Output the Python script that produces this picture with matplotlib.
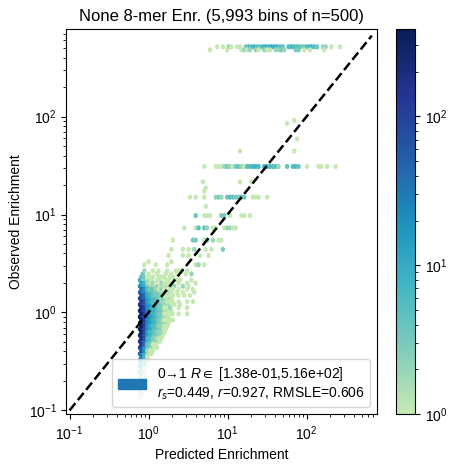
import numpy as np
import matplotlib
matplotlib.use('Agg')
import matplotlib.pyplot as plt
from matplotlib.colors import LinearSegmentedColormap, LogNorm
from matplotlib.patches import Patch

plt.rcParams['font.family'] = ['Liberation Sans', 'DejaVu Sans']
plt.rcParams['mathtext.fontset'] = 'custom'
plt.rcParams['mathtext.rm'] = 'Liberation Sans'
plt.rcParams['mathtext.it'] = 'Liberation Sans:italic'
plt.rcParams['mathtext.bf'] = 'Liberation Sans:bold'
plt.rcParams['mathtext.fallback'] = 'stixsans'

# top band, observed ~516 and ~483
top_x = [7.13, 8.5, 10.1, 11.0, 13.5, 14.8, 16.6, 18.2, 19.8, 21.6, 23.5, 25.7, 28, 30.6, 33.4, 36.4, 39.8, 43.4,
         47.3, 51.6, 58, 63.3, 69, 75.5, 82, 89.7, 98, 107, 117, 127, 139, 156, 175, 203, 265]
top_n = [1, 1, 2, 1, 1, 1, 3, 6, 5, 7, 5, 4, 6, 8, 7, 9, 8, 7,
         5, 4, 5, 6, 6, 5, 4, 3, 5, 6, 7, 5, 3, 2, 2, 1, 1]
top2_x = [6.0, 10.1, 15.2, 16.6, 18.2, 19.8, 22.9, 25, 28, 31.5, 35.4, 39.8, 43.4, 47.3, 53, 71, 75.5, 82, 95, 107, 170]
top2_n = [1, 1, 1, 2, 1, 2, 2, 1, 2, 1, 1, 2, 2, 3, 2, 1, 2, 3, 1, 1, 1]

# band at ~31
b31_x = [4.88, 6.92, 7.5, 8.2, 9, 9.8, 10.7, 11.7, 12.8, 14, 15.2, 16.6, 18.2, 19.8, 21.6, 23.5, 25.7, 28, 30.6,
         33.4, 36.4, 39.8, 43.4, 58, 65, 71, 77, 82, 103, 139, 160, 182, 243]
b31_n = [1, 1, 1, 1, 2, 3, 2, 1, 3, 4, 2, 1, 5, 6, 7, 8, 6, 7, 8,
         6, 5, 5, 2, 4, 5, 6, 3, 1, 1, 1, 1, 1, 1]

# band at ~15
b15_x = [4.1, 4.88, 6.92, 7.5, 8.2, 9.8, 10.7, 11.7, 12.8, 14, 15.2, 16.6, 21.6, 23.5, 25.7, 32]
b15_n = [1, 1, 2, 3, 2, 3, 5, 4, 3, 3, 4, 3, 1, 1, 1, 1]

# remaining scattered bins
mid_x = [3.3, 4.9, 14, 20.6, 56, 68, 75, 14, 70, 5.4, 5.2, 5.3, 3.9, 4.3,
         4.0, 5.1, 5.6, 6.2, 8.7, 9.4, 10.7, 15.5, 16.8, 18.5,
         2.8, 4.4, 4.9, 5.4, 6.4, 6.9, 9.4, 10, 10.7, 11.7, 12.8,
         2.03, 3.66, 4.0, 5.17, 5.6, 6.36, 7.5, 8.7,
         1.98, 2.64, 3.15, 3.66, 5.17, 6.36, 8.7,
         1.76, 2.64, 3.34, 4.6, 5.6,
         4.1, 4.47, 4.9, 2.0, 1.71, 1.2, 0.9, 1.04,
         0.875, 1.1, 1.39, 1.76, 2.16, 2.5, 2.7, 3.05,
         0.825, 1.04, 1.27, 1.61, 1.92, 2.35, 2.97, 3.55,
         2.5, 3.15, 3.87, 2.43, 2.97, 3.55, 2.35, 2.8, 3.34,
         2.5, 3.05, 3.66, 2.35, 2.97, 2.5, 3.15, 2.0,
         2.25, 2.6, 3.4, 2.2, 2.75, 3.2, 2.3, 2.65, 3.85, 2.2, 2.6]
mid_y = [15.6, 21, 21, 21, 86, 92, 60, 44, 44, 19, 17.5, 12, 7.2, 7.6,
         9.8, 9.8, 9.8, 9.8, 9.8, 9.8, 9.8, 9.8, 9.8, 9.8,
         7.2, 7.2, 7.2, 7.2, 7.2, 7.2, 7.2, 7.2, 7.2, 7.2, 7.2,
         5.4, 5.4, 5.4, 5.4, 5.4, 5.4, 5.4, 5.4,
         4.4, 4.4, 4.4, 4.4, 4.4, 4.4, 4.4,
         3.8, 3.8, 3.8, 3.8, 3.8,
         3.1, 3.1, 3.1, 3.3, 3.2, 3.1, 3.1, 3.3,
         2.68, 2.68, 2.68, 2.68, 2.68, 2.68, 2.68, 2.68,
         2.5, 2.5, 2.5, 2.5, 2.5, 2.5, 2.5, 2.5,
         1.99, 1.99, 1.99, 1.72, 1.72, 1.72, 1.49, 1.49, 1.49,
         1.29, 1.29, 1.29, 1.12, 1.12, 0.966, 0.966, 0.836,
         2.14, 2.14, 2.14, 1.85, 1.85, 1.85, 1.6, 1.6, 1.6, 1.2, 1.2]
mid_n = [1, 1, 1, 1, 1, 1, 1, 1, 1, 1, 1, 1, 1, 1,
         4, 1, 1, 1, 3, 3, 1, 1, 1, 1,
         1, 4, 4, 2, 1, 1, 1, 2, 2, 1, 1,
         1, 3, 3, 1, 2, 2, 1, 1,
         1, 1, 1, 2, 1, 1, 3,
         1, 1, 1, 1, 1,
         1, 2, 1, 1, 1, 1, 1, 1,
         2, 1, 1, 1, 1, 1, 1, 1,
         4, 1, 1, 1, 1, 1, 1, 2,
         1, 1, 1, 1, 1, 1, 1, 1, 1,
         1, 1, 1, 1, 1, 1, 1, 1,
         1, 1, 1, 1, 2, 1, 1, 1, 1, 1, 1]

# dense fan next to the pinned predictions
fan_x = [0.78, 0.848, 0.921, 1.0, 1.087, 1.18, 1.28, 1.39, 1.51, 1.64, 1.78, 1.94, 2.11]
fan_y = [2.30, 2.14, 1.99, 1.85, 1.72, 1.60, 1.49, 1.39, 1.29, 1.20, 1.12, 1.04, 0.966, 0.899, 0.836, 0.778, 0.724, 0.673,
         0.626, 0.583, 0.542, 0.504, 0.469, 0.436, 0.406, 0.378, 0.351, 0.327, 0.304, 0.283, 0.263, 0.245, 0.228, 0.212,
         0.197, 0.183, 0.171, 0.159, 0.148, 0.138]
fan_n = [
    [5, 1, 2, 1, 1, 1, 0, 1, 1, 1, 0, 1, 1],
    [8, 2, 1, 2, 1, 0, 1, 1, 0, 1, 1, 0, 1],
    [12, 5, 3, 2, 1, 2, 1, 0, 2, 1, 1, 1],
    [22, 9, 5, 3, 2, 1, 3, 1, 1, 2, 1, 1, 1],
    [40, 14, 9, 5, 3, 4, 2, 1, 2, 1, 0, 1, 1],
    [55, 20, 12, 6, 5, 3, 4, 2, 1, 1, 2, 1],
    [75, 30, 14, 10, 7, 4, 3, 3, 2, 1, 1, 1, 1],
    [100, 40, 20, 12, 6, 7, 4, 2, 3, 1, 2, 1],
    [130, 50, 26, 14, 9, 5, 6, 3, 2, 2, 1, 1, 1],
    [170, 60, 28, 18, 10, 8, 4, 4, 2, 2, 2, 1],
    [210, 70, 36, 20, 14, 7, 6, 3, 3, 1, 1, 2],
    [250, 80, 38, 24, 12, 9, 5, 4, 2, 2, 1, 1],
    [290, 90, 45, 22, 15, 8, 6, 3, 3, 1, 1, 1, 1],
    [330, 95, 42, 26, 13, 10, 5, 4, 2, 2, 1],
    [384, 100, 48, 24, 14, 8, 6, 3, 2, 1, 1, 1],
    [370, 95, 40, 22, 12, 9, 4, 3, 2, 2, 1],
    [340, 90, 38, 20, 10, 6, 5, 2, 2, 1, 1],
    [320, 80, 32, 16, 10, 5, 3, 3, 1, 1],
    [290, 70, 28, 14, 7, 5, 3, 2, 2, 1],
    [250, 65, 24, 10, 7, 3, 3, 2, 1],
    [220, 55, 18, 8, 5, 3, 2, 1, 1],
    [180, 40, 14, 6, 3, 2, 2, 1],
    [140, 30, 9, 4, 3, 1, 1],
    [100, 20, 6, 3, 2, 1, 1],
    [70, 14, 4, 2, 1, 1],
    [45, 9, 3, 1, 1],
    [30, 6, 2, 1],
    [20, 4, 1, 1],
    [12, 3, 1],
    [8, 2, 1],
    [5, 1],
    [4, 1],
    [3, 1],
    [2, 1],
    [2],
    [2],
    [1],
    [1],
    [1],
    [1],
]

x, y, n = [], [], []
for xs, ns, level in [(top_x, top_n, 516), (top2_x, top2_n, 483), (b31_x, b31_n, 31), (b15_x, b15_n, 15)]:
    x += xs
    y += [level] * len(xs)
    n += ns
x += mid_x
y += mid_y
n += mid_n
for yi, row in zip(fan_y, fan_n):
    for xi, ni in zip(fan_x, row):
        if ni > 0:
            x.append(xi)
            y.append(yi)
            n.append(ni)

cmap = LinearSegmentedColormap.from_list('ylgnbu_cut', plt.cm.YlGnBu(np.linspace(0.25, 1, 256)))

fig = plt.figure(figsize=(4.57, 4.75), dpi=100)
ax = fig.add_axes([0.1455, 0.128, 0.679, 0.81])
cax = fig.add_axes([0.8676, 0.128, 0.0405, 0.81])

hb = ax.hexbin(x, y, C=n, reduce_C_function=np.sum, gridsize=(70, 57), xscale='log', yscale='log', cmap=cmap,
               norm=LogNorm(vmin=1, vmax=384), zorder=2)
ax.plot([0.1, 670], [0.1, 670], color='black', ls='--', lw=1.8, zorder=3)
ax.set_xlim(0.0915, 775)
ax.set_ylim(0.0915, 775)
ax.set_title('None 8-mer Enr. (5,993 bins of n=500)', fontsize=12)
ax.set_xlabel('Predicted Enrichment', fontsize=10)
ax.set_ylabel('Observed Enrichment', fontsize=10)
ax.tick_params(labelsize=10)

fig.colorbar(hb, cax=cax)
cax.tick_params(labelsize=10)

label = '0→1 $R\\in$ [1.38e-01,5.16e+02]\n$r_s$=0.449, $r$=0.927, RMSLE=0.606'
ax.legend(handles=[Patch(color='C0', label=label)], loc='lower right', fontsize=10)

fig.savefig('out.png', dpi=100)
